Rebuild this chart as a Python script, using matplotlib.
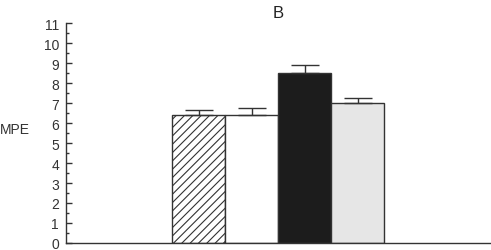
import numpy as np
import matplotlib.pyplot as plt
from matplotlib.ticker import MultipleLocator

# ---- data ----
groups = ["g1", "g2", "g3", "g4"]
mpe = [6.40, 6.38, 8.48, 6.98]
err = [0.27, 0.38, 0.40, 0.26]
fills = ["white", "white", "#1c1c1c", "#e6e6e6"]
hatches = ["////", "", "", ""]

plt.rcParams['font.family'] = ['Liberation Sans', 'DejaVu Sans']
plt.rcParams['hatch.linewidth'] = 0.8
plt.rcParams['hatch.color'] = '#444444'

fig = plt.figure(figsize=(4.91, 2.51), dpi=100)
ax = fig.add_axes([66 / 491, 7 / 251, 424 / 491, 220 / 251])

x = np.arange(len(groups))
for i in range(len(groups)):
    ax.bar(x[i], mpe[i], width=1.0, color=fills[i], edgecolor='#333333',
           linewidth=1.0, hatch=hatches[i], zorder=2)
ax.errorbar(x, mpe, yerr=[np.zeros(len(err)), err], fmt='none',
            ecolor='#333333', elinewidth=1.0, capsize=10, capthick=1.0, zorder=3)

ax.set_xlim(-2.5, 5.5)
ax.set_ylim(0, 11)
ax.yaxis.set_major_locator(MultipleLocator(1))
ax.yaxis.set_minor_locator(MultipleLocator(0.5))
ax.tick_params(axis='y', which='major', direction='in', length=4, width=1,
               color='#333333', labelsize=10, labelcolor='#333333', pad=5)
ax.tick_params(axis='y', which='minor', direction='in', length=2, width=1,
               color='#333333')
ax.set_xticks([])
for s in ['top', 'right']:
    ax.spines[s].set_visible(False)
for s in ['left', 'bottom']:
    ax.spines[s].set_color('#333333')
    ax.spines[s].set_linewidth(1.0)

ax.set_title("B", fontsize=12, color='#222222', pad=4)
fig.text(0.0, 1 - 130 / 251, "MPE", fontsize=10, color='#333333',
         ha='left', va='center')

fig.savefig("out.png", dpi=100)
